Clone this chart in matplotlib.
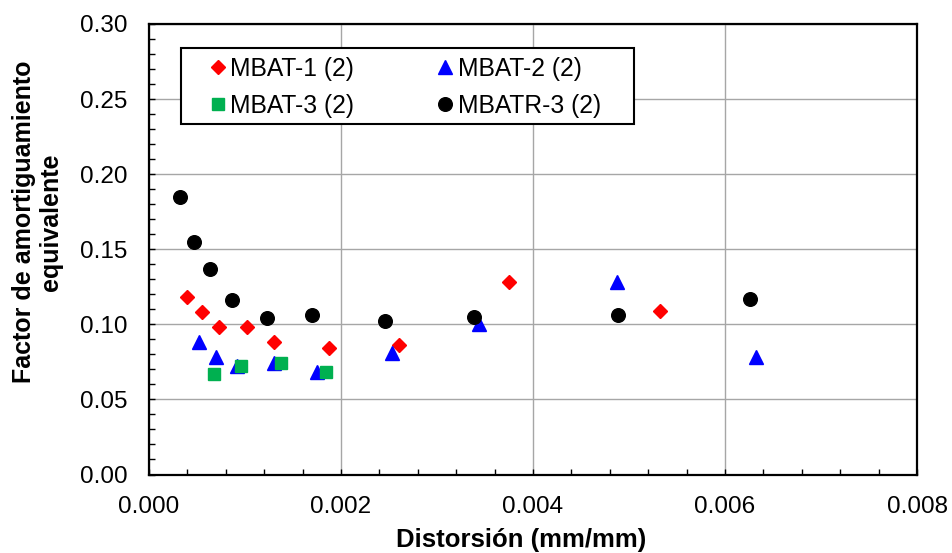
import matplotlib
matplotlib.use("Agg")
import matplotlib.pyplot as plt
from matplotlib.patches import Rectangle
from matplotlib.ticker import MultipleLocator, FormatStrFormatter

# Data (distorsión mm/mm, factor de amortiguamiento equivalente)
mbat1_x = [0.00040, 0.00055, 0.00073, 0.00102, 0.00130, 0.00188, 0.00260, 0.00375, 0.00532]
mbat1_y = [0.118, 0.108, 0.098, 0.098, 0.088, 0.084, 0.086, 0.128, 0.109]

mbat2_x = [0.00052, 0.00070, 0.00092, 0.00130, 0.00175, 0.00253, 0.00344, 0.00488, 0.00632]
mbat2_y = [0.088, 0.078, 0.072, 0.074, 0.068, 0.081, 0.100, 0.128, 0.078]

mbat3_x = [0.00068, 0.00096, 0.00138, 0.00184]
mbat3_y = [0.067, 0.072, 0.074, 0.068]

mbatr3_x = [0.000323, 0.00047, 0.000635, 0.000865, 0.00123, 0.00170, 0.00246, 0.00339, 0.00489, 0.00626]
mbatr3_y = [0.185, 0.155, 0.137, 0.116, 0.104, 0.106, 0.102, 0.105, 0.106, 0.117]

labels = ["MBAT-1 (2)", "MBAT-2 (2)", "MBAT-3 (2)", "MBATR-3 (2)"]

plt.rcParams['font.family'] = ['Liberation Sans', 'DejaVu Sans']

W, H = 952, 553
fig = plt.figure(figsize=(W/100, H/100), dpi=100)
ax = fig.add_axes([149/W, 1-474.5/H, 768/W, 450.5/H])

h1, = ax.plot(mbat1_x, mbat1_y, 'D', color='#FF0000', ms=6.8, mec='#FF0000', ls='none', zorder=3)
h2, = ax.plot(mbat2_x, mbat2_y, '^', color='#0000FF', ms=9.6, mec='#0000FF', ls='none', zorder=3)
h3, = ax.plot(mbat3_x, mbat3_y, 's', color='#00B050', ms=8.8, mec='#00B050', ls='none', zorder=4)
h4, = ax.plot(mbatr3_x, mbatr3_y, 'o', color='black', ms=9.8, ls='none', zorder=3)

ax.set_xlim(0, 0.008)
ax.set_ylim(0, 0.30)
ax.xaxis.set_major_locator(MultipleLocator(0.002))
ax.xaxis.set_minor_locator(MultipleLocator(0.0004))
ax.yaxis.set_major_locator(MultipleLocator(0.05))
ax.yaxis.set_minor_locator(MultipleLocator(0.01))
ax.xaxis.set_major_formatter(FormatStrFormatter('%.3f'))
ax.yaxis.set_major_formatter(FormatStrFormatter('%.2f'))

ax.grid(True, which='major', color='#a6a6a6', lw=1.0, zorder=0)
ax.set_axisbelow(True)
ax.tick_params(which='both', direction='in', length=4, width=1.0, color='black',
               labelsize=17.5, top=False, right=False)
ax.tick_params(axis='x', which='major', pad=15.5)
ax.tick_params(axis='y', which='major', pad=15.5)
for s in ax.spines.values():
    s.set_linewidth(1.6)
    s.set_color('black')

ax.set_xlabel('Distorsión (mm/mm)', fontsize=18.5, fontweight='bold', va='top')
ax.xaxis.set_label_coords((521-149)/768, (474.5-528)/450.5)

fig.text(37.5/W, 1-222/H, 'Factor de amortiguamiento\nequivalente', fontsize=18,
         fontweight='bold', rotation=90, ha='center', va='center',
         multialignment='center', linespacing=1.12)

# legend box
box = Rectangle((0.0417, 0.778), 0.6315-0.0417, 0.947-0.778, transform=ax.transAxes,
                facecolor='white', edgecolor='black', lw=1.5, zorder=5)
ax.add_patch(box)

leg = ax.legend([h1, h3, h2, h4], [labels[0], labels[2], labels[1], labels[3]],
                ncol=2, loc='upper left',
                bbox_to_anchor=((210.6-149)/768, (474.5-57)/450.5),
                fontsize=17.7, frameon=False,
                handlelength=0.6, handletextpad=0.19, columnspacing=3.42,
                borderpad=0.0, labelspacing=0.53, borderaxespad=0.0)
leg.set_zorder(6)

fig.savefig('out.png', dpi=100)
